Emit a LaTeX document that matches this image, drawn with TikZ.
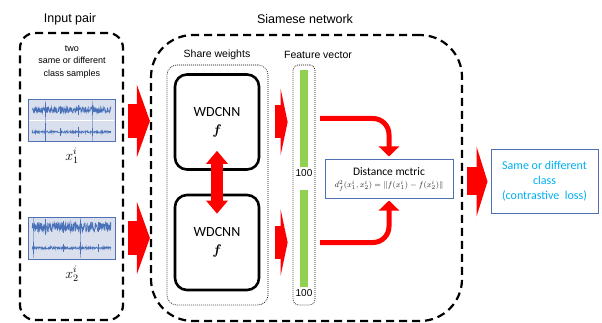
\documentclass[tikz,border=0pt]{standalone}
\usepackage{fix-cm}
\usepackage{fontspec}
\setmainfont{Carlito}
\newfontfamily\arialfont{Liberation Sans}
\usepackage{amsmath}
\usepackage{bm}
\usetikzlibrary{arrows.meta}

\definecolor{boxblue}{RGB}{79,113,180}
\definecolor{wavblue}{RGB}{74,114,184}
\definecolor{sigfill}{RGB}{218,223,238}
\definecolor{barg}{RGB}{146,208,80}
\definecolor{outcyan}{RGB}{0,176,240}

% signal trace: x start, x end, y middle, amplitude
\newcommand{\sigtrace}[4]{%
  \draw[wavblue, line width=0.5pt] plot[domain=#1:#2, samples=320] (\x, {#3+#4*rand});}

\begin{document}
\begin{tikzpicture}[x=1pt, y=-1pt,
    head/.style={font=\arialfont\fontsize{12.5}{14}\selectfont},
    small/.style={font=\arialfont\fontsize{10.5}{12}\selectfont},
    dashbox/.style={draw, line width=2.2pt, dash pattern=on 8pt off 5pt, rounded corners=#1, inner sep=0pt},
    dotbox/.style={draw, line width=0.7pt, dash pattern=on 0.8pt off 1.2pt, rounded corners=#1, inner sep=0pt},
    cnnbox/.style={draw, line width=2.6pt, rounded corners=12pt, minimum width=84pt, minimum height=95pt,
      align=center, font=\fontsize{14}{17}\selectfont},
    bar/.style={fill=barg, minimum width=8pt, minimum height=97pt, inner sep=0pt},
    bluebox/.style={draw=boxblue, line width=1pt, inner sep=0pt, align=center},
    sigbox/.style={draw=boxblue, fill=sigfill, line width=1pt, minimum width=87pt, minimum height=42pt, inner sep=0pt},
    inarr/.style={red, line width=34pt, -{Triangle[length=13pt, width=72pt]}},
    featarr/.style={red, line width=33pt, -{Triangle[length=7pt, width=66pt]}},
    outarr/.style={red, line width=28pt, -{Triangle[length=11pt, width=70pt]}},
    curvarr/.style={red, line width=5pt, rounded corners=16pt, -{Triangle[length=10pt, width=20pt]}}]
  \useasboundingbox (0,0) rectangle (602,323);

  % Input pair
  \node[head] (inlabel) at (70,19) {Input pair};
  \node[dashbox=15pt, minimum width=103pt, minimum height=287pt] (inbox) at (71.5,176.5) {};
  \node[font=\arialfont\fontsize{9}{12.5}\selectfont, align=center] (twotxt) at (72,62)
    {two\\same or different\\class samples};
  \node[sigbox] (sig1) at (71.5,121) {};
  \node[sigbox] (sig2) at (71.5,238) {};
  \node[font=\fontsize{14}{16}\selectfont] (x1) at (72,156) {$x_1^i$};
  \node[font=\fontsize{14}{16}\selectfont] (x2) at (72,274) {$x_2^i$};

  % Signals
  \pgfmathsetseed{11}
  \draw[white, line width=0.8pt] (29,120.5) -- (114,120.5);
  \foreach \s in {45,92} \draw[wavblue!60, line width=0.4pt] (\s,101) -- (\s,141);
  \sigtrace{32}{111}{110}{3.2}
  \sigtrace{32}{111}{132}{1.2}
  \foreach \s/\h in {45/7,60/4,78/5,92/5} \draw[wavblue, line width=0.8pt] (\s,110-\h) -- (\s,110+\h);
  \foreach \s/\h in {45/9,60/4,78/5,92/4} \draw[wavblue, line width=0.8pt] (\s,132-\h) -- (\s,132+\h);
  \foreach \s in {33,80} \draw[wavblue!60, line width=0.4pt] (\s,218) -- (\s,258);
  \sigtrace{32}{111}{227}{5}
  \sigtrace{32}{111}{248}{1.2}
  \foreach \s/\h in {45/8,63/6,80/7,98/5} \draw[wavblue, line width=0.8pt] (\s,227-\h) -- (\s,227+\h);
  \foreach \s/\h in {33/6,63/4,80/6,98/4} \draw[wavblue, line width=0.8pt] (\s,248-\h) -- (\s,248+\h);

  % Siamese network
  \node[head] (siamlabel) at (305,19) {Siamese network};
  \node[dashbox=42pt, minimum width=311pt, minimum height=286pt] (siam) at (306.5,178) {};
  \node[small] (sharelabel) at (217,55) {Share weights};
  \node[dotbox=10pt, minimum width=101pt, minimum height=240pt] (share) at (217.5,185) {};
  \node[cnnbox] (cnn1) at (217,122) {WDCNN\\[1pt]$\bm{f}$};
  \node[cnnbox] (cnn2) at (217,242.5) {WDCNN\\[1pt]$\bm{f}$};
  \node[small] (featlabel) at (318,55) {Feature vector};
  \node[dotbox=5pt, minimum width=22pt, minimum height=240pt] (featbox) at (304,185) {};
  \node[bar] (bar1) at (304,118.5) {};
  \node[bar] (bar2) at (304,238.5) {};
  \node[font=\arialfont\fontsize{10}{12}\selectfont] (n1) at (304,173.5) {100};
  \node[font=\arialfont\fontsize{10}{12}\selectfont] (n2) at (304,293.5) {100};
  \node[bluebox, minimum width=128pt, minimum height=39pt, font=\fontsize{11.5}{12.5}\selectfont] (dist) at (389,179.5)
    {Distance mctric\\[-1pt]{\color{black!85}\fontsize{8}{9}\selectfont $d_f^2(x_1^i,x_2^i)=\|f(x_1^i)-f(x_2^i)\|$}};

  % Output
  \node[bluebox, minimum width=107pt, minimum height=63pt, text=outcyan, font=\fontsize{12}{15}\selectfont] (out) at (544.5,181.5)
    {Same or different\\class\\(contrastive~ loss)};

  % Arrows
  \draw[inarr, shorten <=4pt] (inbox.east |- sig1.east) -- (siam.west |- sig1.east);
  \draw[inarr, shorten <=4pt] (inbox.east |- sig2.east) -- (siam.west |- sig2.east);
  \draw[red, line width=12pt, {Triangle[length=13pt, width=21pt]}-{Triangle[length=13pt, width=21pt]}]
    ([yshift=20pt]cnn1.south) -- ([yshift=-20pt]cnn2.north);
  \draw[featarr, shorten <=7pt, shorten >=5pt] (share.east |- cnn1.east) -- (featbox.west |- cnn1.east);
  \draw[featarr, shorten <=7pt, shorten >=5pt] (share.east |- cnn2.east) -- (featbox.west |- cnn2.east);
  \draw[curvarr, shorten >=3pt] ([xshift=12pt]bar1.east) -| (dist.north);
  \draw[curvarr, shorten >=1pt] ([xshift=12pt, yshift=-4pt]bar2.east) -| (dist.south);
  \draw[outarr, shorten <=4pt, shorten >=3pt] (siam.east |- out.west) -- (out.west);
\end{tikzpicture}
\end{document}
